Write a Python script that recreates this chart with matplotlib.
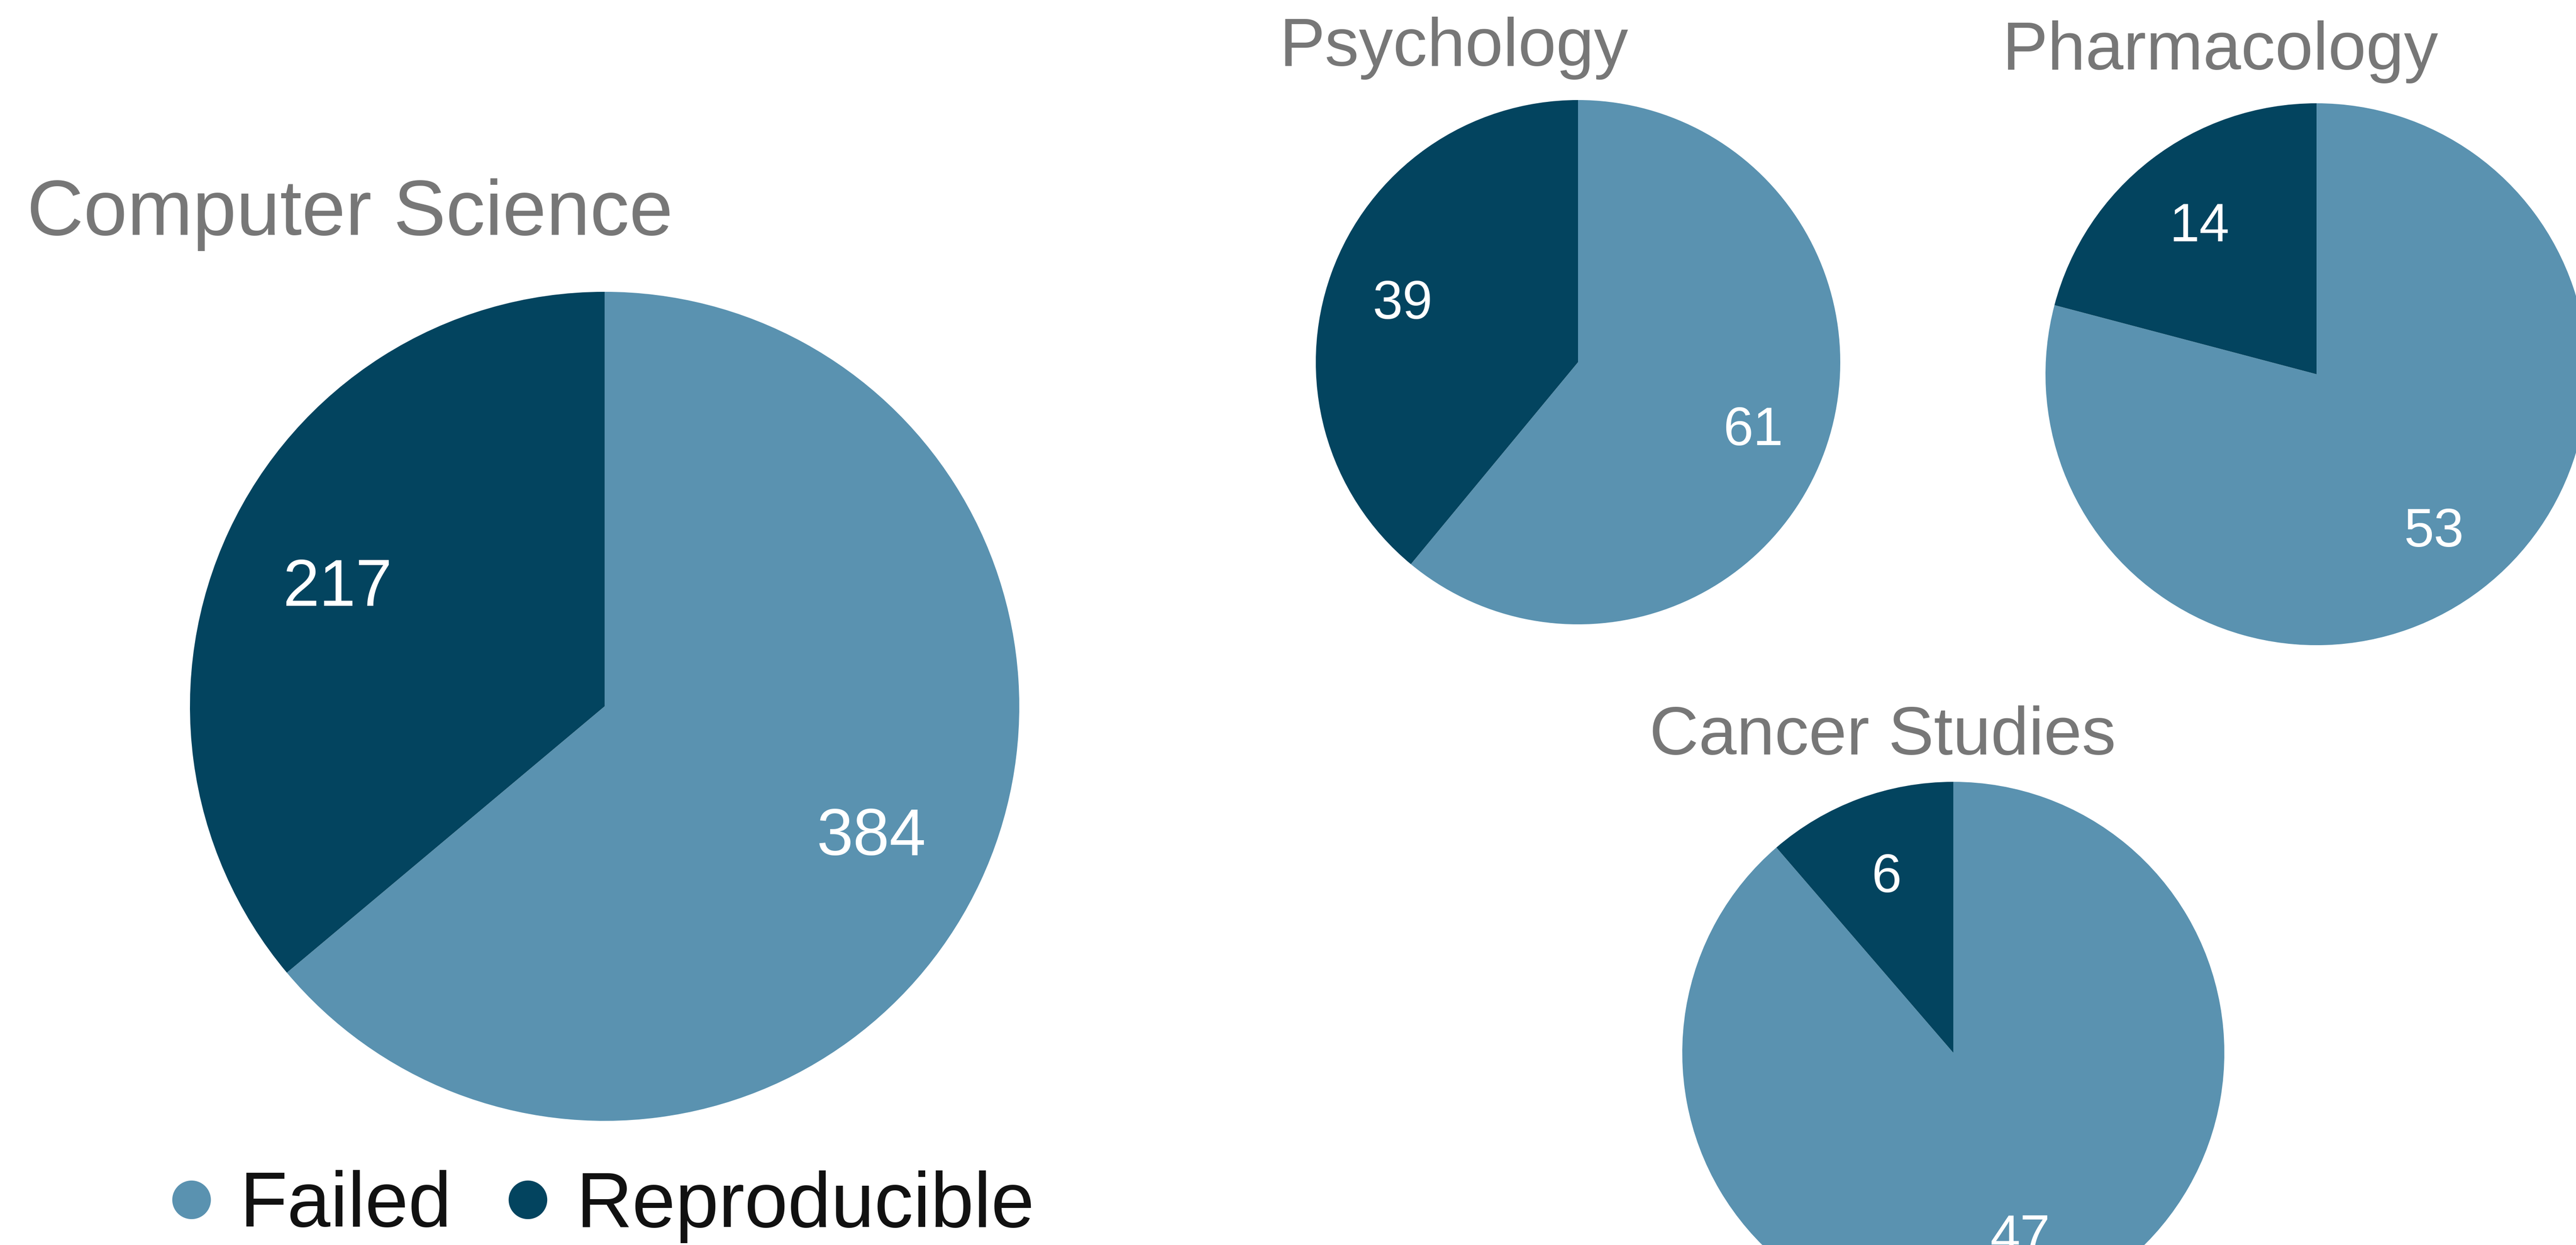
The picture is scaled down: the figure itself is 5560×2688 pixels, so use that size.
import matplotlib.pyplot as plt
from matplotlib.lines import Line2D

plt.rcParams['font.family'] = ['Liberation Sans', 'DejaVu Sans']

# 数据
fields = ["Computer Science", "Psychology", "Pharmacology", "Cancer Studies"]
failed = [384, 61, 53, 47]
reproducible = [217, 39, 14, 6]
legend_labels = ["Failed", "Reproducible"]

light = "#5A92B0"
dark = "#03445F"
title_grey = "#777777"

W, H = 5560, 2688
fig = plt.figure(figsize=(W / 100, H / 100), dpi=100)

# 每个饼图的位置（像素：中心x，中心y，半径），以及标题左下角、字号
pie_boxes = [(1305, 1525, 895), (3406, 782, 566), (5000, 808, 585), (4216, 2273, 585)]
title_pos = [(58, 507), (2762, 142), (4322, 150), (3560, 1628)]
title_size = [122, 106, 106, 106]
label_size = [102, 84, 84, 84]


def px_box(cx, cy, r):
    return [(cx - r) / W, (H - cy - r) / H, 2 * r / W, 2 * r / H]


for i, name in enumerate(fields):
    cx, cy, r = pie_boxes[i]
    ax = fig.add_axes(px_box(cx, cy, r))
    vals = [failed[i], reproducible[i]]
    total = sum(vals)
    wedges, texts, autotexts = ax.pie(
        vals, colors=[light, dark], startangle=90, counterclock=False,
        autopct=lambda p, t=total: f"{round(p * t / 100)}", pctdistance=0.71,
        wedgeprops=dict(linewidth=0),
        textprops=dict(color="white", fontsize=label_size[i]))
    for t in autotexts:
        t.set_va("center_baseline")
    ax.set_xlim(-1, 1)
    ax.set_ylim(-1, 1)
    ax.axis("off")

    tx, ty = title_pos[i]
    fig.text(tx / W, 1 - ty / H, name, fontsize=title_size[i], color=title_grey,
             ha="left", va="baseline")

# 图例
handles = [Line2D([], [], marker="o", linestyle="none", markersize=60,
                  markerfacecolor=c, markeredgewidth=0) for c in (light, dark)]
fig.legend(handles, legend_labels, loc="center", bbox_to_anchor=(1302 / W, 1 - 2605 / H),
           ncol=2, frameon=False, fontsize=121, handlelength=0.5, handletextpad=0.37,
           columnspacing=0.73, borderpad=0, labelcolor="#111111")

fig.savefig("out.png", dpi=100, facecolor="white")
